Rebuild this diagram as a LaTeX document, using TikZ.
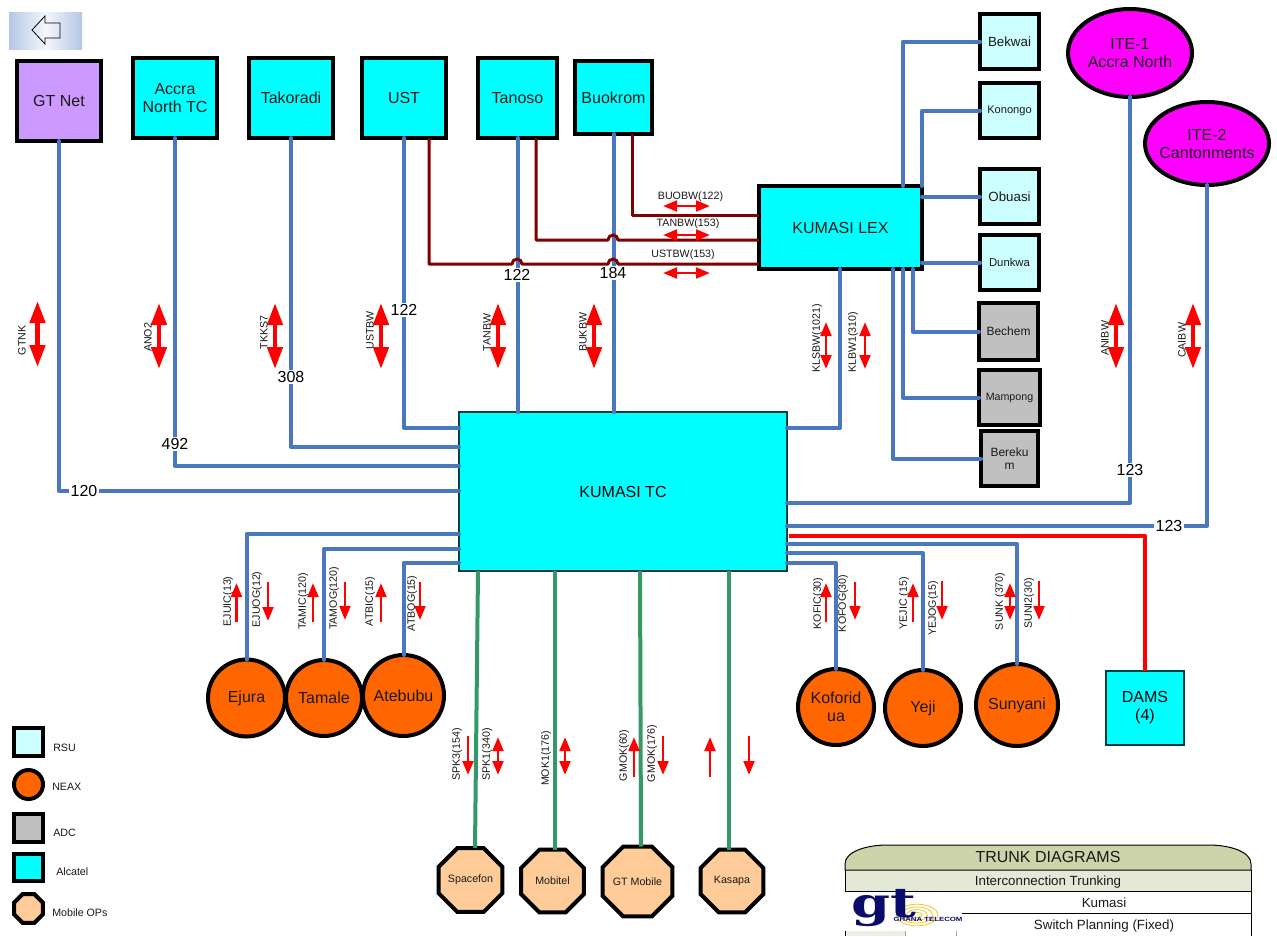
\documentclass[tikz,border=0pt]{standalone}
\usepackage{fontspec}
\setmainfont{Liberation Sans}
\newfontfamily\logofont{DejaVu Serif}
\usetikzlibrary{arrows.meta,shapes.geometric}
\definecolor{alc}{HTML}{00FFFF}
\definecolor{rsu}{HTML}{CCFFFF}
\definecolor{adc}{HTML}{C0C0C0}
\definecolor{neax}{HTML}{FF6600}
\definecolor{mob}{HTML}{FFCC99}
\definecolor{gtn}{HTML}{CC99FF}
\definecolor{ite}{HTML}{FF00FF}
\definecolor{trk}{HTML}{4A78C0}
\definecolor{mar}{HTML}{800000}
\definecolor{grn}{HTML}{339966}
\definecolor{thdr}{HTML}{CDD4A9}
\definecolor{tsub}{HTML}{E4E8D6}
\definecolor{navy2}{HTML}{0B0B6B}
\definecolor{gold2}{HTML}{F2C81E}
\definecolor{btn}{HTML}{B4C6E7}
\tikzset{
  x=0.75pt,y=-0.75pt,
  wh/.style 2 args={minimum width=#1*0.75pt,minimum height=#2*0.75pt},
  fs/.style={font=\fontsize{#1}{1.125\dimexpr#1pt\relax}\selectfont},
  boxs/.style={draw=black,line width=3pt,inner sep=0pt,outer sep=0pt,align=center,text=black!90,fs=12},
  alcbox/.style={boxs,fill=alc},
  rsubox/.style={boxs,fill=rsu},
  adcbox/.style={boxs,fill=adc},
  thinbox/.style={draw=black!50!teal,line width=0.9pt,fill=alc,inner sep=0pt,outer sep=0pt,align=center,fs=12},
  round/.style={boxs,circle,fill=neax},
  ell/.style={boxs,ellipse,fill=ite,inner xsep=-6pt},
  oct/.style={boxs,regular polygon,regular polygon sides=8,fill=mob,fs=8},
  num/.style={fill=white,inner sep=1pt,fs=12},
  vlab/.style={rotate=90,inner sep=0pt,fs=8,text=black!90,xshift=0.5pt},
  hlab/.style={inner sep=0pt,fs=8,text=black!90},
  leg/.style={anchor=west,inner sep=0pt,fs=8,text=black!90},
  tt/.style={inner sep=0pt,text=black!90},
  trunk/.style={draw=trk,line width=3pt,line join=round,line cap=round},
  hop/.style={draw=mar,line width=2.25pt,line join=round},
  grnl/.style={draw=grn,line width=3pt},
  redl/.style={draw=red,line width=3pt,line join=round},
  bigd/.style={draw=red,line width=3.4pt,{Triangle[length=16.5pt,width=11.25pt]}-{Triangle[length=16.5pt,width=11.25pt]}},
  smd/.style={draw=red,line width=2.2pt,{Triangle[length=10.5pt,width=8pt]}-{Triangle[length=10.5pt,width=8pt]}},
  smu/.style={draw=red,line width=2.2pt,-{Triangle[length=10.5pt,width=8pt]}},
}
\begin{document}
\begin{tikzpicture}
\useasboundingbox (0,0) rectangle (1277,936);
\fill[white] (0,0) rectangle (1277,936);
% back button
\shade[left color=btn,right color=btn,middle color=btn!15!white] (9,12) rectangle (82,49);
\draw[line width=0.6pt] (32,30) -- (45,16) -- (45,23) -- (60,23) -- (60,38) -- (45,38) -- (45,44) -- cycle;
% top boxes
\node[boxs,fill=gtn,wh={84}{80}] (gt) at (59,101) {GT Net};
\node[alcbox,wh={84}{80}] (acc) at (175,98) {Accra\\North TC};
\node[alcbox,wh={84}{80}] (tak) at (291,98) {Takoradi};
\node[alcbox,wh={84}{80}] (ust) at (404,98) {UST};
\node[alcbox,wh={79}{80}] (tan) at (517.5,98) {Tanoso};
\node[alcbox,wh={77}{73}] (buo) at (613.5,97.5) {Buokrom};
\node[alcbox,wh={163}{83}] (lex) at (840.5,227.5) {KUMASI LEX};
\node[thinbox,wh={328}{159}] (tc) at (623,491.5) {KUMASI TC};
% RSU
\node[rsubox,wh={59}{55},fs=10] (bek) at (1009.5,41.5) {Bekwai};
\node[rsubox,wh={59}{55},fs=8.3] (kon) at (1009.5,110.5) {Konongo};
\node[rsubox,wh={59}{55},fs=10] (obu) at (1009.5,196.5) {Obuasi};
\node[rsubox,wh={59}{55},fs=8.5] (dun) at (1009.5,262.5) {Dunkwa};
\node[adcbox,wh={59}{57},fs=9] (bec) at (1008.5,331.5) {Bechem};
\node[adcbox,wh={61}{55},fs=8] (mam) at (1009.5,397.5) {Mampong};
\node[adcbox,wh={57}{55},fs=9] (ber) at (1009.5,458.5) {Bereku\\m};
% ellipses
\node[ell,wh={124}{88}] (ite1) at (1130,53) {ITE-1\\Accra North};
\node[ell,wh={124}{83}] (ite2) at (1207,143.5) {ITE-2\\Cantonments};
% exchanges
\node[round,minimum size=77*0.75pt] (eju) at (246.5,698) {Ejura};
\node[round,minimum size=76*0.75pt] (tam) at (324,698) {Tamale};
\node[round,minimum size=81*0.75pt] (ate) at (403.5,695.5) {Atebubu};
\node[round,minimum size=76*0.75pt] (kof) at (836,707) {Koforid\\ua};
\node[round,minimum size=76*0.75pt] (yej) at (923,708) {Yeji};
\node[round,minimum size=82*0.75pt] (sun) at (1017,705) {Sunyani};
\node[thinbox,wh={78}{74}] (dam) at (1145,708) {DAMS\\(4)};
% mobile
\node[oct,minimum size=68*0.75pt] (spa) at (470.5,880) {Spacefon};
\node[oct,minimum size=68*0.75pt] (mbt) at (552.5,881) {Mobitel};
\node[oct,minimum size=69.5*0.75pt] (gtm) at (637.5,881.5) {GT Mobile};
\node[oct,minimum size=68*0.75pt] (kas) at (732,881) {Kasapa};
% trunks
\draw[trunk] (gt.south) |- (tc.west |- 0,491);
\draw[trunk] (acc.south) |- (tc.west |- 0,466);
\draw[trunk] (tak.south) |- (tc.west |- 0,447);
\draw[trunk] (ust.south) |- (tc.west |- 0,428);
\draw[trunk] (tan.south) -- (tan.south |- tc.north);
\draw[trunk] (buo.south) -- (buo.south |- tc.north);
\draw[trunk] (lex.south -| 840,0) |- (tc.east |- 0,428);
\draw[trunk] (lex.north -| 903,0) |- (bek.west);
\draw[trunk] (lex.north east) |- (kon.west);
\draw[trunk] (lex.east |- obu.west) -- (obu.west);
\draw[trunk] (lex.east |- dun.west) -- (dun.west);
\draw[trunk] (lex.south -| 913,0) |- (bec.west);
\draw[trunk] (lex.south -| 903,0) |- (mam.west);
\draw[trunk] (lex.south -| 893,0) |- (ber.west);
\draw[trunk] (ite1.south) |- (tc.east |- 0,503);
\draw[trunk] (ite2.south) |- (tc.east |- 0,526);
\draw[trunk] (tc.east |- 0,544) -| (sun.north);
\draw[trunk] (tc.east |- 0,553) -| (yej.north);
\draw[trunk] (tc.east |- 0,563) -| (kof.north);
\draw[trunk] (tc.west |- 0,534) -| (eju.north);
\draw[trunk] (tc.west |- 0,549) -| (tam.north);
\draw[trunk] (tc.west |- 0,563) -| (ate.north);
\draw[redl] ([xshift=1.5pt]tc.east |- 0,536) -| (dam.north);
\draw[grnl] (tc.south -| 478,0) -- (spa.north -| 475,0);
\draw[grnl] (tc.south -| 555,0) -- (mbt.north -| 555,0);
\draw[grnl] (tc.south -| 640,0) -- (gtm.north -| 641,0);
\draw[grnl] (tc.south -| 729,0) -- (kas.north -| 729,0);
% maroon
\draw[hop] (ust.south -| 429,0) |- (512,264) arc[start angle=180,end angle=0,radius=3.75pt] -- (608,264) arc[start angle=180,end angle=0,radius=3.75pt] -- (lex.west |- 0,264);
\draw[hop] (tan.south -| 536,0) |- (608,240) arc[start angle=180,end angle=0,radius=3.75pt] -- (lex.west |- 0,240);
\draw[hop] (buo.south -| 632,0) |- (lex.west |- 0,215);
% numbers
\node[num] (n120) at (84,491) {120};
\node[num] (n492) at (175,444) {492};
\node[num] (n308) at (291,377) {308};
\node[num] (n122a) at (404,310) {122};
\node[num] (n122b) at (517,275) {122};
\node[num] (n184) at (613,273) {184};
\node[num] (n123a) at (1130,470) {123};
\node[num] (n123b) at (1169,526) {123};
% big arrows
\draw[bigd] (37.5,301) -- (37.5,367);
\draw[bigd] (159,303) -- (159,369);
\draw[bigd] (275,303) -- (275,369);
\draw[bigd] (381,303) -- (381,369);
\draw[bigd] (498,303) -- (498,369);
\draw[bigd] (594,303) -- (594,369);
\draw[bigd] (1116,303) -- (1116,369);
\draw[bigd] (1193,303) -- (1193,369);
\node[vlab] (l1) at (22,341) {GTNK};
\node[vlab] (l2) at (148,338) {ANO2};
\node[vlab] (l3) at (264,333) {TKKS7};
\node[vlab] (l4) at (370,331) {USTBW};
\node[vlab] (l5) at (487,333) {TANBW};
\node[vlab] (l6) at (583,333) {BUKBW};
\node[vlab] (l7) at (1105,339) {ANIBW};
\node[vlab] (l8) at (1182,341) {CAIBW};
% horizontal
\draw[smd] (663,206) -- (710,206);
\draw[smd] (663,235) -- (710,235);
\draw[smd] (663,273) -- (710,273);
\node[hlab] (h1) at (690.5,197) {BUOBW(122)};
\node[hlab] (h2) at (688,224) {TANBW(153)};
\node[hlab] (h3) at (683,255) {USTBW(153)};
% KL
\draw[smd] (826,322) -- (826,369);
\draw[smd] (865,322) -- (865,369);
\node[vlab] (k1) at (817,339) {KLSBW(1021)};
\node[vlab] (k2) at (853,343) {KLBW1(310)};
% lower left
\draw[smu] (236.5,622) -- (236.5,583);
\draw[smu] (268,582) -- (268,621);
\draw[smu] (313,622) -- (313,583);
\draw[smu] (345,582) -- (345,620);
\draw[smu] (381,622) -- (381,583);
\draw[smu] (420,582) -- (420,620);
\node[vlab] (e1) at (228,602) {EJUIC(13)};
\node[vlab] (e2) at (257,600) {EJUOG(12)};
\node[vlab] (e3) at (303,602) {TAMIC(120)};
\node[vlab] (e4) at (334,599) {TAMOG(120)};
\node[vlab] (e5) at (370,602) {ATBIC(15)};
\node[vlab] (e6) at (412,604) {ATBOG(15)};
% lower right
\draw[smu] (826,622) -- (826,583);
\draw[smu] (855,582) -- (855,620);
\draw[smu] (913,622) -- (913,583);
\draw[smu] (942,581) -- (942,620);
\draw[smd] (1010,583) -- (1010,620);
\draw[smu] (1039,581) -- (1039,620);
\node[vlab] (r1) at (818,604) {KOFIC(30)};
\node[vlab] (r2) at (843,604) {KOFOG(30)};
\node[vlab] (r3) at (904,604) {YEJIC (15)};
\node[vlab] (r4) at (933,609) {YEJOG(15)};
\node[vlab] (r5) at (1000,602) {SUNK (370)};
\node[vlab] (r6) at (1029,604) {SUNI2(30)};
% mobile arrows
\draw[smu] (468,736) -- (468,775);
\draw[smd] (498,737) -- (498,775);
\draw[smd] (565,737) -- (565,775);
\draw[smu] (634,777) -- (634,737);
\draw[smu] (663,736) -- (663,775);
\draw[smu] (710,777) -- (710,737);
\draw[smu] (749,736) -- (749,775);
\node[vlab] (m1) at (457,755) {SPK3(154)};
\node[vlab] (m2) at (487,755) {SPK1(340)};
\node[vlab] (m3) at (546,759) {MOK1(176)};
\node[vlab] (m4) at (624,756) {GMOK(60)};
\node[vlab] (m5) at (652,754) {GMOK(176)};
% legend
\node[rsubox,wh={29}{28}] (lg1) at (28.5,742) {};
\node[round,minimum size=29*0.75pt] (lg2) at (28.5,784.5) {};
\node[adcbox,wh={29}{28}] (lg3) at (28.5,828) {};
\node[alcbox,wh={29}{27}] (lg4) at (28.5,867.5) {};
\node[oct,minimum size=31*0.75pt] (lg5) at (28.5,908.5) {};
\node[leg] (lt1) at (53,748) {RSU};
\node[leg] (lt2) at (52,787) {NEAX};
\node[leg] (lt3) at (53,833) {ADC};
\node[leg] (lt4) at (56,872) {Alcatel};
\node[leg] (lt5) at (52,913) {Mobile OPs};
% title block
\fill[tsub] (845,870) rectangle (1251,891);
\draw[line width=0.75pt,fill=thdr] (845,870) -- (845,864) .. controls (845,852) and (865,845) .. (888,845) -- (1208,845) .. controls (1231,845) and (1251,852) .. (1251,864) -- (1251,870) -- cycle;
\draw[line width=0.75pt] (845,870) -- (845,891);
\draw[line width=0.75pt] (1251,870) -- (1251,936);
\draw[line width=0.75pt] (845,891) -- (1251,891);
\draw[line width=0.75pt] (962,913) -- (1251,913);
\fill[white] (845,891.5) rectangle (962,931);
\fill[tsub!70!white] (846,931) rectangle (905,936);
\draw[line width=0.75pt] (845,931) -- (845,936);
\draw[line width=0.3pt,black!35] (905,931) -- (905,936) (956,931) -- (956,936);
% logo
\foreach \r in {1,2,3,4} {\draw[gold2,line width=0.6pt] (917,915) ellipse[x radius=\r*5.2,y radius=\r*2.7];}
\node[inner sep=0pt,text=navy2] (lgo) at (883.5,908) {\scalebox{1.35}[1]{\fontsize{31}{31}\selectfont\logofont\bfseries gt}};
\node[inner sep=0pt,text=navy2] (lgt) at (928,919.5) {\scalebox{1.3}[1]{\fontsize{4.5}{5}\selectfont\bfseries GHANA TELECOM}};
\node[tt,fs=12] (t1) at (1048,857) {TRUNK DIAGRAMS};
\node[tt,fs=10] (t2) at (1048,882) {Interconnection Trunking};
\node[tt,fs=10] (t3) at (1104,903) {Kumasi};
\node[tt,fs=10] (t4) at (1104,926) {Switch Planning (Fixed)};
\end{tikzpicture}
\end{document}
